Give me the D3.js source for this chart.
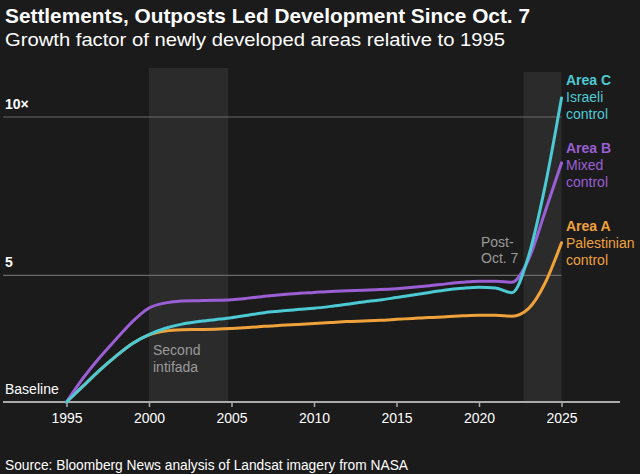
<!DOCTYPE html>
<html>
<head>
<meta charset="utf-8">
<script src="https://cdn.jsdelivr.net/npm/d3@7"></script>
<style>
  html, body { margin: 0; padding: 0; background: #1b1b1b; }
  .chart { width: 640px; height: 474px; }
  text { font-family: "Liberation Sans", Arial, sans-serif; }
</style>
</head>
<body>
<div class="chart"></div>
<script>
// yearly growth factors
var years = d3.range(1995, 2026);
var areaC = [1, 1.5, 2.0, 2.45, 2.85, 3.13, 3.33, 3.46, 3.54, 3.6, 3.66, 3.74, 3.82, 3.87, 3.92, 3.96,
             4.02, 4.09, 4.16, 4.22, 4.3, 4.38, 4.46, 4.54, 4.59, 4.62, 4.6, 4.45, 5.6, 7.8, 10.6];
var areaB = [1, 1.75, 2.4, 2.98, 3.54, 3.97, 4.13, 4.19, 4.2, 4.21, 4.23, 4.28, 4.34, 4.39, 4.43, 4.46,
             4.49, 4.51, 4.53, 4.55, 4.58, 4.62, 4.67, 4.73, 4.78, 4.81, 4.81, 4.78, 5.5, 7.0, 8.55];
var areaA = [1, 1.5, 2.0, 2.45, 2.85, 3.12, 3.24, 3.28, 3.29, 3.3, 3.32, 3.35, 3.39, 3.42, 3.45, 3.48,
             3.51, 3.54, 3.56, 3.58, 3.61, 3.64, 3.67, 3.69, 3.72, 3.74, 3.74, 3.71, 3.95, 4.75, 6.03];
var xTicks = [1995, 2000, 2005, 2010, 2015, 2020, 2025];
var yGrid = [5, 10];
var yLabels = ["5", "10×"];
var bands = [[2000, 2004.8], [2022.7, 2025]];

var series = [
  {name: "A", values: areaA, color: "#f0a23a", label: ["Area A", "Palestinian", "control"]},
  {name: "B", values: areaB, color: "#9a5fd5", label: ["Area B", "Mixed", "control"]},
  {name: "C", values: areaC, color: "#4ccad4", label: ["Area C", "Israeli", "control"]}
];

var svg = d3.select(".chart").append("svg")
  .attr("width", 640)
  .attr("height", 474);

svg.append("rect").attr("width", 640).attr("height", 474).attr("fill", "#1b1b1b");

var x = d3.scaleLinear().domain([1995, 2025]).range([66.5, 561.5]);
var y = d3.scaleLinear().domain([1, 10]).range([402, 117]);

// shaded periods
svg.selectAll(".band").data(bands).enter().append("rect")
  .attr("x", function(d) { return x(d[0]); })
  .attr("width", function(d) { return x(d[1]) - x(d[0]); })
  .attr("y", function(d, i) { return i == 0 ? 68 : 72; })
  .attr("height", function(d, i) { return y(1) - (i == 0 ? 68 : 72); })
  .attr("fill", "#2b2b2b");

// gridlines
svg.selectAll(".grid").data(yGrid).enter().append("line")
  .attr("x1", 3).attr("x2", x(2025))
  .attr("y1", function(d) { return y(d); })
  .attr("y2", function(d) { return y(d); })
  .attr("stroke", "#6a6a6a")
  .attr("stroke-width", 1.2);

svg.selectAll(".glabel").data(yGrid).enter().append("text")
  .attr("x", 5)
  .attr("y", function(d) { return y(d) - 8; })
  .attr("fill", "#fff")
  .attr("font-size", 14)
  .attr("font-weight", "bold")
  .text(function(d, i) { return yLabels[i]; });

// x axis
var xAxis = d3.axisBottom(x).tickValues(xTicks).tickFormat(d3.format("d")).tickSize(5).tickPadding(6);
var ax = svg.append("g").attr("transform", "translate(0," + y(1) + ")").call(xAxis);
ax.select(".domain").remove();
ax.selectAll("line").attr("stroke", "#aaa").attr("stroke-width", 1.5);
ax.selectAll("text")
  .attr("fill", "#fff")
  .attr("font-size", 14)
  .style("font-family", "'Liberation Sans', Arial, sans-serif");
svg.append("line")
  .attr("x1", 3).attr("x2", 620)
  .attr("y1", y(1)).attr("y2", y(1))
  .attr("stroke", "#aaa").attr("stroke-width", 2);

// annotations
svg.append("text").attr("x", 5).attr("y", 394)
  .attr("fill", "#fff").attr("font-size", 14).text("Baseline");

var intifada = svg.append("text").attr("x", 153).attr("y", 355)
  .attr("fill", "#9a9a9a").attr("font-size", 14);
intifada.append("tspan").attr("x", 153).text("Second");
intifada.append("tspan").attr("x", 153).attr("dy", 17).text("intifada");

var post = svg.append("text").attr("x", 481).attr("y", 247)
  .attr("fill", "#9a9a9a").attr("font-size", 14);
post.append("tspan").attr("x", 481).text("Post-");
post.append("tspan").attr("x", 481).attr("dy", 15.5).text("Oct. 7");

// lines
var line = d3.line()
  .x(function(d, i) { return x(years[i]); })
  .y(function(d) { return y(d); })
  .curve(d3.curveMonotoneX);

svg.selectAll(".series").data(series).enter().append("path")
  .attr("d", function(d) { return line(d.values); })
  .attr("fill", "none")
  .attr("stroke", function(d) { return d.color; })
  .attr("stroke-width", 3)
  .attr("stroke-linecap", "round");

// end labels
var labelTop = {C: 85, B: 153, A: 231};
series.forEach(function(s) {
  var t = svg.append("text")
    .attr("x", 566)
    .attr("y", labelTop[s.name])
    .attr("fill", s.color)
    .attr("font-size", 14);
  s.label.forEach(function(l, i) {
    t.append("tspan")
      .attr("x", 566)
      .attr("dy", i == 0 ? 0 : 17)
      .attr("font-weight", i == 0 ? "bold" : "normal")
      .text(l);
  });
});

// titles
svg.append("text").attr("x", 5).attr("y", 23)
  .attr("fill", "#fff").attr("font-size", 21).attr("font-weight", "bold")
  .attr("textLength", 525).attr("lengthAdjust", "spacingAndGlyphs")
  .text("Settlements, Outposts Led Development Since Oct. 7");
svg.append("text").attr("x", 5).attr("y", 46)
  .attr("fill", "#fff").attr("font-size", 17.5)
  .attr("textLength", 500).attr("lengthAdjust", "spacingAndGlyphs")
  .text("Growth factor of newly developed areas relative to 1995");
svg.append("text").attr("x", 5).attr("y", 470)
  .attr("fill", "#fff").attr("font-size", 14)
  .attr("textLength", 403).attr("lengthAdjust", "spacingAndGlyphs")
  .text("Source: Bloomberg News analysis of Landsat imagery from NASA");
</script>
</body>
</html>
